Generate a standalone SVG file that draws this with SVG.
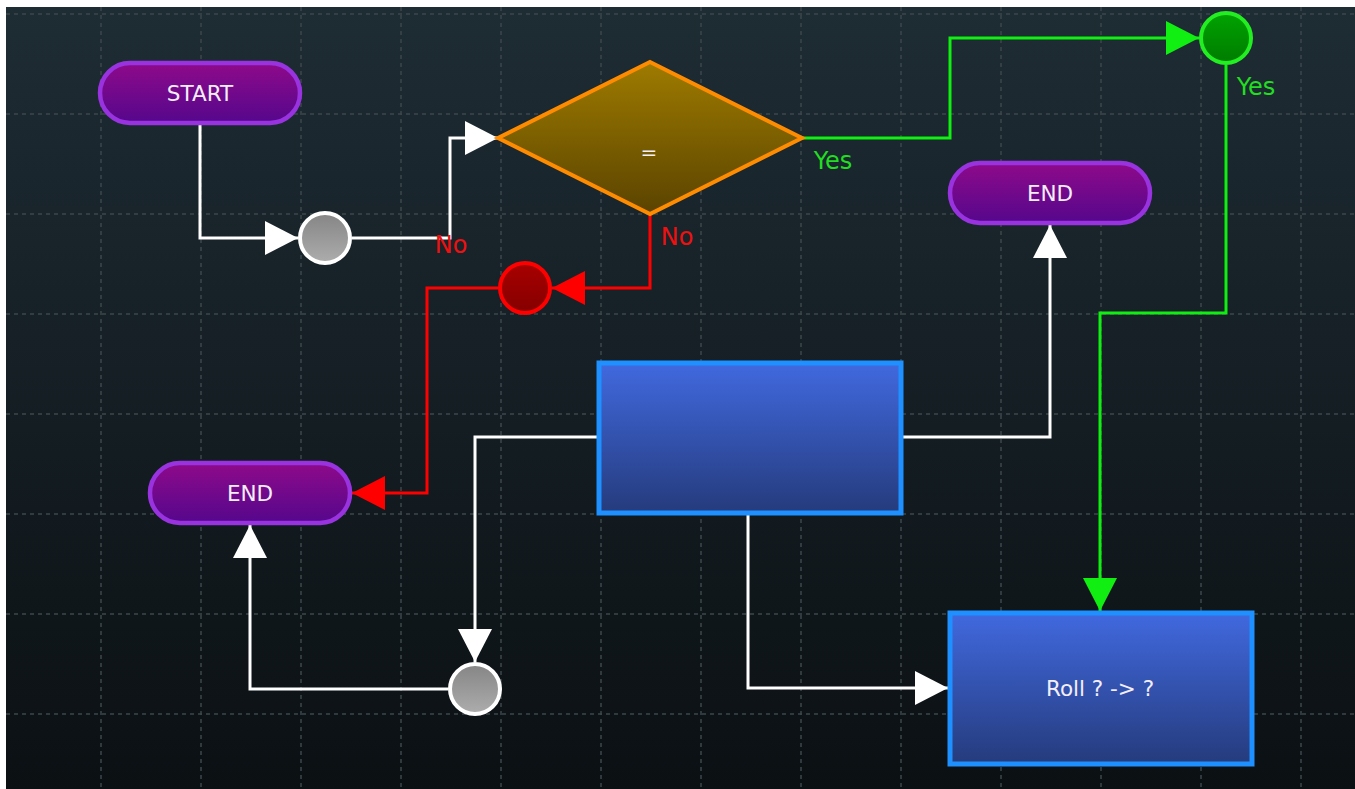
<svg xmlns="http://www.w3.org/2000/svg" width="1355" height="789" viewBox="0 0 1355 789">
<defs>
<linearGradient id="bg" x1="0" y1="0" x2="0" y2="1"><stop offset="0" stop-color="#1e2c34"/><stop offset="1" stop-color="#0b1013"/></linearGradient>
<linearGradient id="gPill" x1="0" y1="0" x2="0" y2="1"><stop offset="0" stop-color="#8e0a8a"/><stop offset="1" stop-color="#55078c"/></linearGradient>
<linearGradient id="gDia" x1="0" y1="0" x2="0" y2="1"><stop offset="0" stop-color="#9e7b00"/><stop offset="1" stop-color="#5a4300"/></linearGradient>
<linearGradient id="gBox" x1="0" y1="0" x2="0" y2="1"><stop offset="0" stop-color="#4169df"/><stop offset="1" stop-color="#253b7c"/></linearGradient>
<linearGradient id="gGray" x1="0" y1="0" x2="0" y2="1"><stop offset="0" stop-color="#858585"/><stop offset="1" stop-color="#adadad"/></linearGradient>
<linearGradient id="gRed" x1="0" y1="0" x2="0" y2="1"><stop offset="0" stop-color="#a80000"/><stop offset="1" stop-color="#850000"/></linearGradient>
<linearGradient id="gGreen" x1="0" y1="0" x2="0" y2="1"><stop offset="0" stop-color="#00a300"/><stop offset="1" stop-color="#007c00"/></linearGradient>
<marker id="aW" markerUnits="userSpaceOnUse" markerWidth="34" markerHeight="34" refX="33" refY="17" orient="auto" overflow="visible"><path d="M0,0 L33,17 L0,34 Z" fill="#ffffff"/></marker>
<marker id="aR" markerUnits="userSpaceOnUse" markerWidth="34" markerHeight="34" refX="33" refY="17" orient="auto" overflow="visible"><path d="M0,0 L33,17 L0,34 Z" fill="#ff0000"/></marker>
<marker id="aG" markerUnits="userSpaceOnUse" markerWidth="34" markerHeight="34" refX="33" refY="17" orient="auto" overflow="visible"><path d="M0,0 L33,17 L0,34 Z" fill="#11ee11"/></marker>
</defs>
<style>
.grid line{stroke:#3d474c;stroke-width:1.5;stroke-dasharray:4 4}
.pill{fill:url(#gPill);stroke:#9933e0;stroke-width:4.5}
.box{fill:url(#gBox);stroke:#1e90ff;stroke-width:5}
.ntext{font-family:"DejaVu Sans",sans-serif;font-size:21.5px;fill:#f3eefa;text-anchor:middle}
.lbl{font-family:"DejaVu Sans",sans-serif;font-size:24px;text-anchor:middle}
.w{fill:none;stroke:#ffffff;stroke-width:3;marker-end:url(#aW)}
.r{fill:none;stroke:#ff0000;stroke-width:3;marker-end:url(#aR)}
.g{fill:none;stroke:#11ee11;stroke-width:3;marker-end:url(#aG)}
</style>
<rect x="0" y="0" width="1355" height="789" fill="#ffffff"/>
<rect x="6" y="7" width="1349" height="782" fill="url(#bg)"/>
<g class="grid">
<line x1="6" y1="14" x2="1355" y2="14"/><line x1="6" y1="114" x2="1355" y2="114"/><line x1="6" y1="214" x2="1355" y2="214"/><line x1="6" y1="314" x2="1355" y2="314"/><line x1="6" y1="414" x2="1355" y2="414"/><line x1="6" y1="514" x2="1355" y2="514"/><line x1="6" y1="614" x2="1355" y2="614"/><line x1="6" y1="714" x2="1355" y2="714"/>
<line x1="101" y1="7" x2="101" y2="789"/><line x1="201" y1="7" x2="201" y2="789"/><line x1="301" y1="7" x2="301" y2="789"/><line x1="401" y1="7" x2="401" y2="789"/><line x1="501" y1="7" x2="501" y2="789"/><line x1="601" y1="7" x2="601" y2="789"/><line x1="701" y1="7" x2="701" y2="789"/><line x1="801" y1="7" x2="801" y2="789"/><line x1="901" y1="7" x2="901" y2="789"/><line x1="1001" y1="7" x2="1001" y2="789"/><line x1="1101" y1="7" x2="1101" y2="789"/><line x1="1201" y1="7" x2="1201" y2="789"/><line x1="1301" y1="7" x2="1301" y2="789"/>
</g>
<g id="connectors">
<path class="w" d="M200,125 V238 H298"/>
<path class="w" d="M352,238 H450 V138 H498"/>
<path class="g" d="M802,138 H950 V38 H1199"/>
<path class="r" d="M650,214 V288 H552"/>
<path class="r" d="M498,288 H427 V493 H352"/>
<path class="g" d="M1226,65 V313 H1100 V611"/>
<path class="w" d="M903,437 H1050 V225"/>
<path class="w" d="M597,437 H475 V662"/>
<path class="w" d="M748,515 V688 H948"/>
<path class="w" d="M448,689 H250 V525"/>
<text class="lbl" x="451" y="253" fill="#ee1111">No</text>
<text class="lbl" x="677" y="245" fill="#ee1111">No</text>
<text class="lbl" x="833" y="169" fill="#22dd22">Yes</text>
<text class="lbl" x="1256" y="95" fill="#22dd22">Yes</text>
</g>
<g id="start"><rect class="pill" x="100" y="63" width="200" height="60" rx="30"/><text class="ntext" x="200" y="100.5">START</text></g>
<g id="end1"><rect class="pill" x="950" y="163" width="200" height="60" rx="30"/><text class="ntext" x="1050" y="200.5">END</text></g>
<g id="end2"><rect class="pill" x="150" y="463" width="200" height="60" rx="30"/><text class="ntext" x="250" y="500.5">END</text></g>
<g id="decision"><polygon points="650,62 802,138 650,214 498,138" fill="url(#gDia)" stroke="#ff8c00" stroke-width="4" stroke-linejoin="miter"/><text class="ntext" x="649" y="159" style="font-size:20px">=</text></g>
<g id="merge1"><circle cx="325" cy="238" r="25" fill="url(#gGray)" stroke="#ffffff" stroke-width="4"/></g>
<g id="merge2"><circle cx="475" cy="689" r="25" fill="url(#gGray)" stroke="#ffffff" stroke-width="4"/></g>
<g id="noNode"><circle cx="525" cy="288" r="25" fill="url(#gRed)" stroke="#ff0000" stroke-width="4"/></g>
<g id="yesNode"><circle cx="1226" cy="38" r="25" fill="url(#gGreen)" stroke="#22ee22" stroke-width="4"/></g>
<g id="process1"><rect class="box" x="599" y="363" width="302" height="150"/></g>
<g id="process2"><rect class="box" x="950" y="613" width="302" height="151"/><text class="ntext" x="1100" y="696">Roll ? -&gt; ?</text></g>
</svg>
